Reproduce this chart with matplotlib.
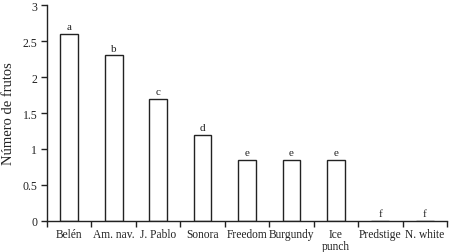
import matplotlib
matplotlib.use("Agg")
import matplotlib.pyplot as plt
import numpy as np

categories = ["Belén", "Am. nav.", "J. Pablo", "Sonora", "Freedom", "Burgundy", "Ice\npunch", "Predstige", "N. white"]
values = [2.6, 2.3, 1.7, 1.2, 0.85, 0.85, 0.85, 0.0, 0.0]
letters = ["a", "b", "c", "d", "e", "e", "e", "f", "f"]
yticks = [0, 0.5, 1, 1.5, 2, 2.5, 3]
ytick_labels = ["0", "0.5", "1", "1.5", "2", "2.5", "3"]

plt.rcParams['font.family'] = ['Liberation Serif', 'DejaVu Serif']

fig = plt.figure(figsize=(4.5, 2.53), dpi=100)
ax = fig.add_axes([47/450, 31/253, 400/450, 216/253])

x = np.arange(len(categories)) + 0.5
ax.bar(x, values, width=0.4, facecolor="white", edgecolor="#222222", linewidth=1.0)
for xi, v, l in zip(x, values, letters):
    ax.text(xi, v + 0.04, l, ha="center", va="bottom", fontsize=8, color="#222222")

ax.set_xlim(0, len(categories))
ax.set_ylim(0, 3)
ax.set_xticks(np.arange(0, len(categories) + 1))
ax.set_xticklabels([])
ax.set_xticks(x, minor=True)
ax.set_xticklabels(categories, minor=True, fontsize=8.3, color="#222222", linespacing=1.0)
ax.tick_params(axis="x", which="minor", length=0, pad=5)
ax.tick_params(axis="x", which="major", length=4, direction="out", width=1, color="#222222")
ax.set_yticks(yticks)
ax.set_yticklabels(ytick_labels, fontsize=8.5, color="#222222")
ax.tick_params(axis="y", length=4, direction="out", width=1, color="#222222", pad=3)

for s in ["top", "right"]:
    ax.spines[s].set_visible(False)
for s in ["left", "bottom"]:
    ax.spines[s].set_linewidth(1.0)
    ax.spines[s].set_color("#222222")

ax.set_ylabel("Número de frutos", fontsize=10.5, color="#222222")
ax.yaxis.set_label_coords(-32/400, 0.5)

fig.savefig("out.png", dpi=100)
